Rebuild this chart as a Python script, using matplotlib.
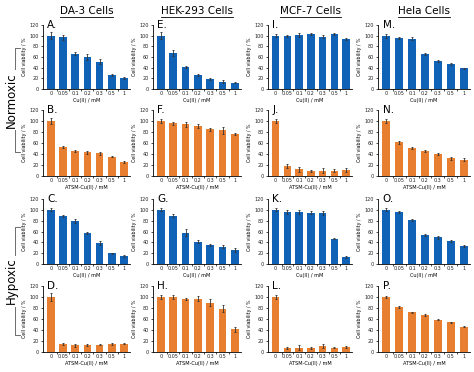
import numpy as np
import matplotlib.pyplot as plt
from matplotlib.lines import Line2D

conc = ["0", "0.05", "0.1", "0.2", "0.3", "0.5", "1"]
cells = ["DA-3 Cells", "HEK-293 Cells", "MCF-7 Cells", "Hela Cells"]

# rows: normoxic Cu, normoxic ATSM-Cu, hypoxic Cu, hypoxic ATSM-Cu
A = [100, 97, 66, 60, 51, 27, 21]; A_err = [7, 5, 3, 5, 5, 2, 2]
B = [100, 53, 46, 43, 41, 35, 26]; B_err = [6, 2, 2, 3, 3, 1, 2]
C = [100, 89, 80, 57, 39, 20, 15]; C_err = [3, 2, 4, 2, 4, 1, 2]
D = [100, 14, 12, 13, 13, 15, 15]; D_err = [7, 2, 2, 2, 1, 2, 1]
E = [100, 67, 42, 26, 19, 14, 12]; E_err = [6, 6, 2, 2, 2, 2, 1]
F = [100, 96, 94, 91, 85, 83, 77]; F_err = [3, 3, 5, 3, 3, 6, 2]
G = [100, 89, 58, 41, 35, 32, 26]; G_err = [3, 3, 6, 3, 2, 3, 3]
H = [100, 100, 97, 97, 90, 79, 41]; H_err = [3, 3, 2, 4, 7, 7, 4]
I = [100, 99, 101, 103, 98, 103, 94]; I_err = [3, 2, 4, 2, 3, 2, 2]
J = [100, 18, 12, 9, 10, 10, 11]; J_err = [3, 3, 4, 2, 4, 2, 3]
K = [100, 96, 96, 95, 94, 47, 13]; K_err = [3, 3, 4, 2, 3, 1, 2]
L = [100, 8, 8, 8, 11, 8, 9]; L_err = [4, 2, 4, 2, 4, 1, 2]
M = [100, 95, 94, 65, 52, 47, 39]; M_err = [4, 2, 3, 2, 2, 2, 1]
N = [100, 61, 51, 45, 40, 32, 30]; N_err = [4, 2, 2, 2, 2, 2, 2]
O = [100, 96, 81, 54, 49, 43, 34]; O_err = [3, 2, 2, 2, 2, 2, 2]
P = [100, 82, 72, 68, 59, 54, 46]; P_err = [2, 2, 1, 2, 1, 1, 1]

panels = [
    [("A", A, A_err), ("E", E, E_err), ("I", I, I_err), ("M", M, M_err)],
    [("B", B, B_err), ("F", F, F_err), ("J", J, J_err), ("N", N, N_err)],
    [("C", C, C_err), ("G", G, G_err), ("K", K, K_err), ("O", O, O_err)],
    [("D", D, D_err), ("H", H, H_err), ("L", L, L_err), ("P", P, P_err)],
]

blue = "#1062b6"
orange = "#e87f30"
W, Hh = 474, 372

cols_px = [(43, 130), (153, 241), (268, 352), (378, 470)]
rows_px = [(25, 89), (110, 176), (199, 264), (286, 352)]

fig = plt.figure(figsize=(4.74, 3.72), dpi=100)
x = np.arange(len(conc))

for r in range(4):
    color = blue if r % 2 == 0 else orange
    xlab = "Cu(II) / mM" if r % 2 == 0 else "ATSM-Cu(II) / mM"
    for c in range(4):
        letter, vals, errs = panels[r][c]
        x0, x1 = cols_px[c]
        y0, y1 = rows_px[r]
        ax = fig.add_axes([x0 / W, 1 - y1 / Hh, (x1 - x0) / W, (y1 - y0) / Hh])
        ax.bar(x, vals, width=0.62, color=color, yerr=errs,
               error_kw=dict(ecolor="#333333", elinewidth=0.6, capsize=1.0, capthick=0.6))
        ax.set_ylim(0, 120)
        ax.set_xlim(-0.65, 6.5)
        ax.set_yticks(range(0, 121, 20))
        ax.set_xticks(x)
        ax.set_xticklabels(conc)
        ax.set_xticks(x[:-1] + 0.5, minor=True)
        ax.tick_params(axis="both", labelsize=3.5, length=1.5, width=0.5, pad=1.5,
                       labelcolor="#222222")
        ax.tick_params(axis="x", which="major", length=0)
        ax.tick_params(axis="x", which="minor", length=1.5, width=0.5)
        for s in ["top", "right"]:
            ax.spines[s].set_visible(False)
        for s in ["left", "bottom"]:
            ax.spines[s].set_linewidth(0.6)
        ax.set_ylabel("Cell viability / %", fontsize=3.4, labelpad=1.5)
        ax.set_xlabel(xlab, fontsize=3.6, labelpad=1.5)
        ax.text(0.05, 1.0, letter + ".", transform=ax.transAxes, fontsize=7.5,
                ha="left", va="center")

# column titles with underline
fig.canvas.draw()
renderer = fig.canvas.get_renderer()
for c, name in enumerate(cells):
    x0, x1 = cols_px[c]
    cx = (x0 + x1) / 2 / W
    t = fig.text(cx, 1 - 11 / Hh, name, fontsize=7.5, ha="center", va="center")
    bb = t.get_window_extent(renderer).transformed(fig.transFigure.inverted())
    fig.add_artist(Line2D([bb.x0, bb.x1], [bb.y0 - 0.002, bb.y0 - 0.002],
                          transform=fig.transFigure, color="black", lw=0.6))

# Normoxic / Hypoxic brackets
for label, top, bot in [("Normoxic", 48, 152), ("Hypoxic", 227, 335)]:
    fig.add_artist(Line2D([20 / W, 15 / W, 15 / W, 20 / W],
                          [1 - top / Hh, 1 - top / Hh, 1 - bot / Hh, 1 - bot / Hh],
                          transform=fig.transFigure, color="#555555", lw=0.6))
    fig.text(11 / W, 1 - (top + bot) / 2 / Hh, label, rotation=90, fontsize=8.5,
             ha="center", va="center",
             bbox=dict(facecolor="white", edgecolor="none", pad=1.5))

fig.savefig("out.png", dpi=100)
